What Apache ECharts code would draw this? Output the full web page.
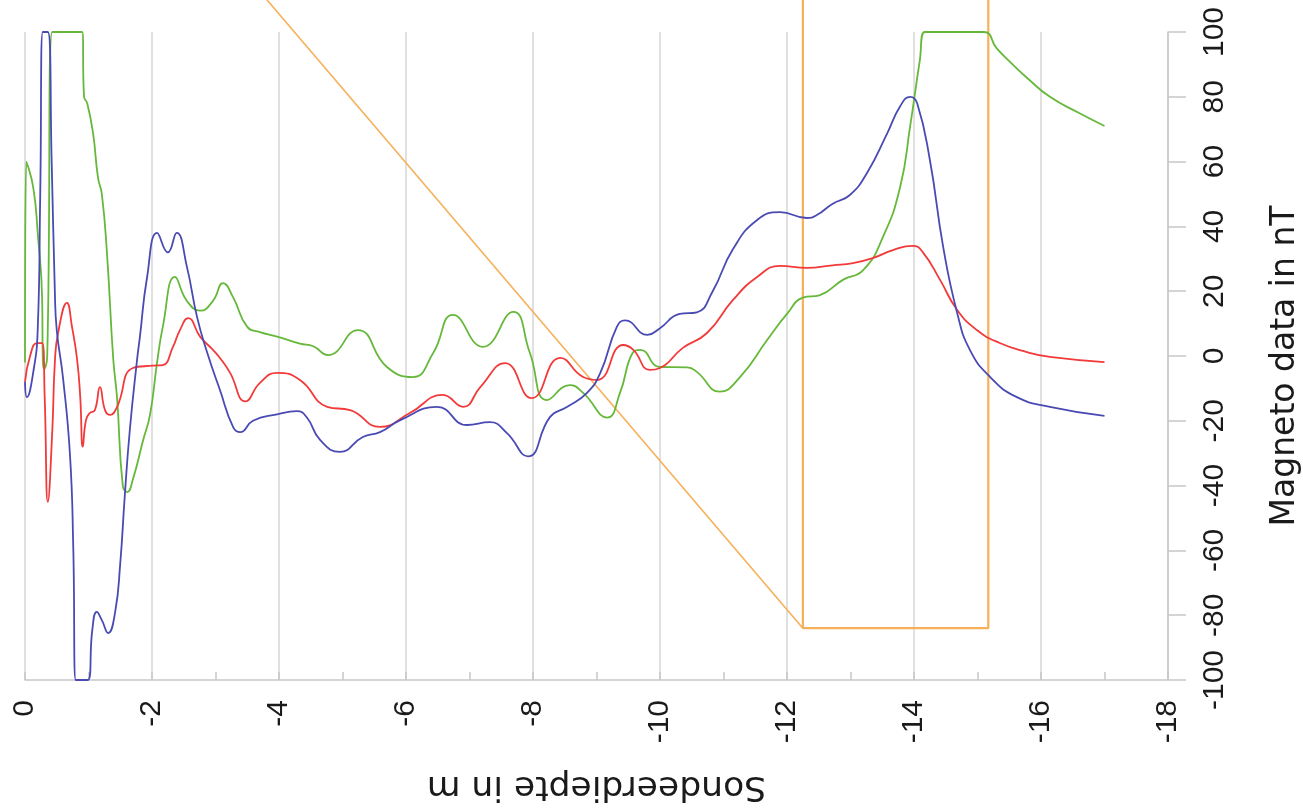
<!DOCTYPE html>
<html><head><meta charset="utf-8">
<script src="https://cdn.jsdelivr.net/npm/echarts@6/dist/echarts.min.js"></script>
<style>html,body{margin:0;padding:0;background:#fff}#c{width:1303px;height:809px}</style>
</head><body><div id="c"></div>
<script>
// Depth (m) and magnetometer values (nT)
const blueDepth = [0,-0.03,-0.13,-0.2,-0.24,-0.28,-0.36,-0.42,-0.47,-0.5,-0.6,-0.71,-0.76,-0.8,-0.99,-1.06,-1.13,-1.21,-1.31,-1.42,-1.5,-1.57,-1.65,-1.76,-1.81,-1.92,-2.08,-2.25,-2.39,-2.55,-2.71,-2.87,-3.07,-3.28,-3.39,-3.59,-3.97,-4.28,-4.44,-4.65,-4.96,-5.32,-5.59,-5.91,-6.49,-6.96,-7.32,-7.59,-7.92,-8.27,-8.54,-8.85,-9.06,-9.32,-9.45,-9.8,-10.0,-10.31,-10.58,-10.83,-11.15,-11.53,-11.89,-12.31,-12.47,-12.72,-12.99,-13.26,-13.58,-13.78,-13.94,-14.05,-14.25,-14.46,-14.68,-14.88,-15.2,-15.62,-16.14,-17];
const blueVal = [-8,-12.7,-5,8,50,100,100,60,20,8,-7,-31,-59,-100,-100,-84.5,-79,-81.5,-85.5,-79,-64,-43.5,-23,-2,6,24,38,32,38,27.5,12,1,-10.5,-22,-23.5,-20,-18,-17,-19,-26,-29.6,-25,-23.5,-19.8,-15.7,-21.3,-20.4,-23.8,-31,-18.8,-15.7,-11.4,-5.2,9,11,6.5,8.6,13,13.5,20,33,42,44.4,42.6,43.5,47,49.7,56.5,68.8,77,80,78,60.5,33.6,13.3,1.9,-6.5,-12.7,-15.7,-18.5];

const redDepth = [0,-0.08,-0.19,-0.27,-0.31,-0.36,-0.43,-0.47,-0.52,-0.66,-0.74,-0.82,-0.87,-0.91,-0.96,-1.02,-1.1,-1.18,-1.26,-1.34,-1.45,-1.7,-2.02,-2.17,-2.33,-2.44,-2.57,-2.76,-2.96,-3.07,-3.23,-3.47,-3.7,-3.97,-4.33,-4.76,-5.12,-5.59,-6.06,-6.58,-6.9,-7.17,-7.56,-7.98,-8.43,-8.79,-9.01,-9.42,-9.58,-9.84,-10,-10.36,-10.74,-11.15,-11.53,-11.89,-12.31,-12.72,-13.04,-13.35,-13.67,-13.98,-14.14,-14.41,-14.68,-14.99,-15.35,-15.78,-16.14,-17];
const redVal = [-8,0,4,4,-12.7,-45,-23,-2,7,16.4,9,-1,-12.7,-28,-19.8,-17.6,-16.7,-9.6,-16.7,-18.2,-15.7,-3.7,-3,-2.8,2.8,8,11.7,5.9,1.9,-0.6,-5.2,-14,-8.3,-5.2,-7.4,-15.7,-16.7,-21.9,-17.6,-12,-15.7,-9.6,-2.2,-13,-0.6,-6.5,-7.4,3.4,1.9,-4.3,-3.7,2.5,7.1,17.3,24.4,27.8,27.2,28,28.7,30.2,32.7,34,32,23.5,14.2,8,4,1.2,-0.3,-1.9];

const greenDepth = [0,-0.02,-0.13,-0.2,-0.27,-0.28,-0.3,-0.35,-0.43,-0.9,-0.93,-0.98,-1.07,-1.15,-1.21,-1.29,-1.39,-1.45,-1.54,-1.61,-1.7,-1.86,-1.97,-2.08,-2.17,-2.36,-2.55,-2.76,-2.96,-3.12,-3.28,-3.5,-3.7,-3.97,-4.33,-4.54,-4.77,-5.24,-5.7,-6.11,-6.43,-6.74,-7.21,-7.69,-7.95,-8.22,-8.58,-8.79,-9.17,-9.37,-9.57,-9.69,-10,-10.43,-10.58,-10.94,-11.26,-11.69,-12,-12.25,-12.52,-12.88,-13.2,-13.51,-13.78,-13.94,-14.09,-14.17,-15.1,-15.3,-15.5,-15.8,-16.14,-16.6,-17];
const greenVal = [-2,60,52,38,17.6,-1,-4,0,100,100,80,78,69,55,50,32,-1,-13,-40,-42,-38,-26,-18,-2,9,24.4,17,14,17,22.5,18,9,7.4,6,3.8,3,0.3,8,-3.4,-6.5,1,12.7,2.8,13.6,1,-13.6,-9,-11.4,-19,-11.4,1,1.9,-3.4,-3.5,-4.9,-11,-6.5,5,13,18,18.8,23.5,26.5,36.7,52,71,91,100,100,95,91,85.5,80,75,71];

const orangeDiagDepth = [-3.72,-12.25];
const orangeDiagVal = [112,-84];
const orangeBoxDepth = [-12.25,-12.25,-15.17,-15.17];
const orangeBoxVal = [112,-84,-84,112];

const xTitle = 'Sondeerdiepte in m';
const yTitle = 'Magneto data in nT';

function pairs(xs, ys){ return xs.map((x,i)=>[x, ys[i]]); }

const chart = echarts.init(document.getElementById('c'));
const lineBase = { type:'line', showSymbol:false, symbol:'none', clip:true, animation:false, smooth:0.5 };
chart.setOption({
  animation:false,
  backgroundColor:'#ffffff',
  grid:{ left:25, right:135, top:32, bottom:129, containLabel:false, outerBoundsMode:'none' },
  xAxis:{
    type:'value', min:-18, max:0, interval:2, inverse:true, position:'bottom',
    name:xTitle, nameLocation:'middle', nameRotate:180, nameGap:88,
    nameTextStyle:{ fontFamily:'DejaVu Sans', fontSize:34.5, color:'#1a1a1a' },
    axisLine:{ show:true, onZero:false, lineStyle:{ color:'#c8c8c8', width:1.5 } },
    axisTick:{ show:true, inside:true, length:8, lineStyle:{ color:'#c8c8c8', width:1.5 } },
    minorTick:{ show:true, splitNumber:2, length:8, lineStyle:{ color:'#c8c8c8', width:1.5 } },
    splitLine:{ show:true, lineStyle:{ color:'#d6d6d6', width:1.5 } },
    axisLabel:{ rotate:90, margin:20, fontFamily:'Liberation Sans', fontSize:30, color:'#1a1a1a' }
  },
  yAxis:{
    type:'value', min:-100, max:100, interval:20, position:'right',
    name:yTitle, nameLocation:'middle', nameGap:101,
    nameTextStyle:{ fontFamily:'DejaVu Sans', fontSize:33, color:'#1a1a1a', padding:[0,20,0,0] },
    axisLine:{ show:true, onZero:false, lineStyle:{ color:'#c8c8c8', width:1.5 } },
    axisTick:{ show:true, inside:false, length:18, lineStyle:{ color:'#c8c8c8', width:1.5 } },
    splitLine:{ show:false },
    axisLabel:{ rotate:90, margin:32, fontFamily:'Liberation Sans', fontSize:30, color:'#1a1a1a' }
  },
  series:[
    Object.assign({}, lineBase, { name:'orange-diag', data:pairs(orangeDiagDepth, orangeDiagVal), smooth:false, clip:false, lineStyle:{ color:'#f7b05a', width:1.6 } }),
    Object.assign({}, lineBase, { name:'orange-box', data:pairs(orangeBoxDepth, orangeBoxVal), smooth:false, clip:false, lineStyle:{ color:'#f7b05a', width:2.2 } }),
    Object.assign({}, lineBase, { name:'green', data:pairs(greenDepth, greenVal), lineStyle:{ color:'#66b83a', width:1.8 } }),
    Object.assign({}, lineBase, { name:'red', data:pairs(redDepth, redVal), lineStyle:{ color:'#f23a3a', width:1.8 } }),
    Object.assign({}, lineBase, { name:'blue', data:pairs(blueDepth, blueVal), lineStyle:{ color:'#4a4ab4', width:1.8 } })
  ]
});
</script></body></html>
